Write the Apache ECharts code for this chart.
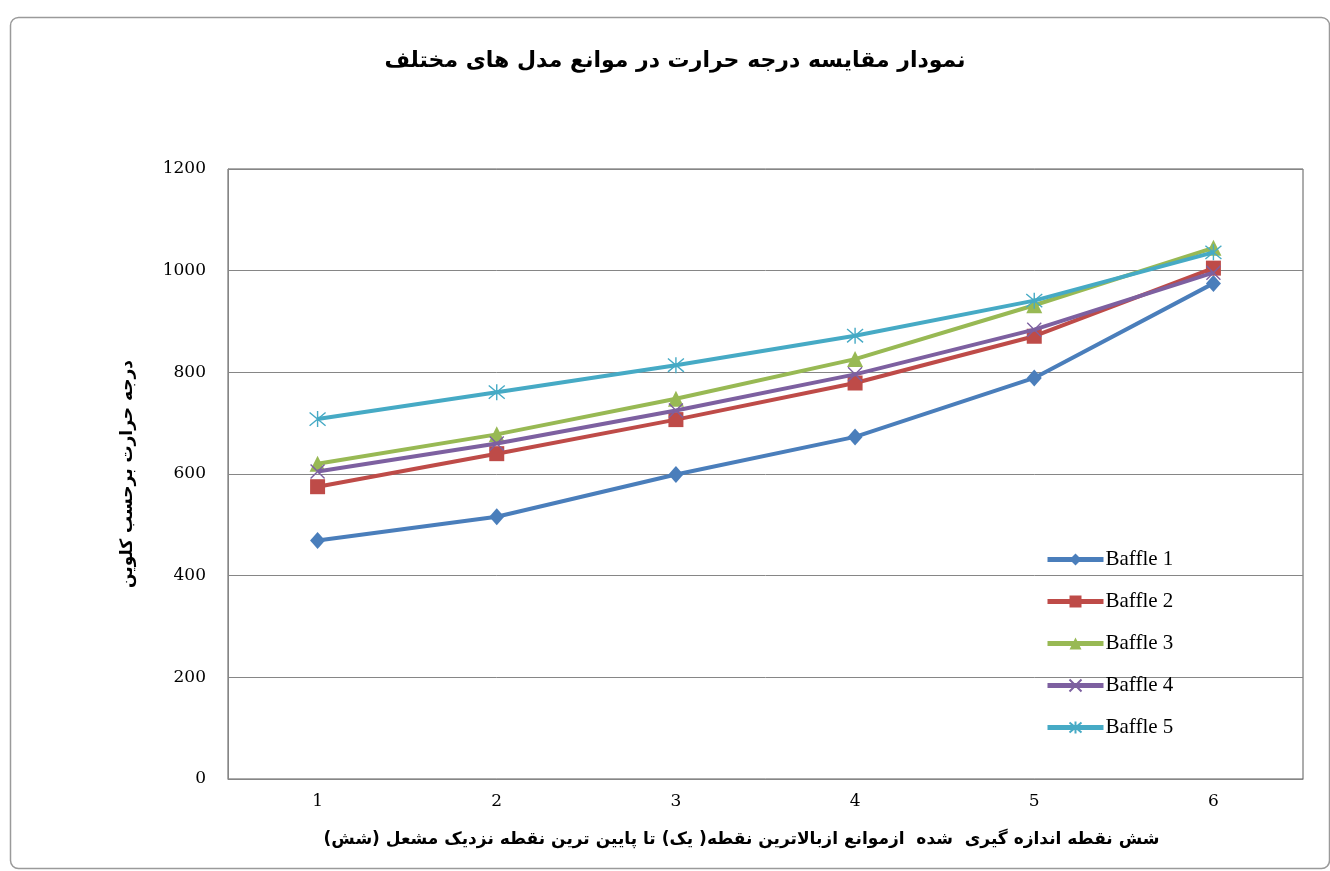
<!DOCTYPE html>
<html>
<head>
<meta charset="utf-8">
<script src="https://cdn.jsdelivr.net/npm/echarts@6/dist/echarts.min.js"></script>
<style>
  html, body { margin: 0; padding: 0; background: #ffffff; }
  #chart { width: 1330px; height: 871px; }
</style>
</head>
<body>
<div id="chart"></div>
<script>
// Measurement points (1 = top of the baffle, 6 = nearest the burner)
const categories = ['1', '2', '3', '4', '5', '6'];

// Temperature in kelvin at each point for each baffle model
const baffle1 = [469, 516, 599, 673, 789, 975];
const baffle2 = [575, 640, 707, 779, 871, 1005];
const baffle3 = [620, 678, 748, 826, 932, 1045];
const baffle4 = [605, 660, 725, 796, 884, 996];
const baffle5 = [708, 761, 814, 872, 941, 1036];

const seriesNames = ['Baffle 1', 'Baffle 2', 'Baffle 3', 'Baffle 4', 'Baffle 5'];
const yTicks = { min: 0, max: 1200, step: 200 };

const titleText = 'نمودار مقایسه درجه حرارت در موانع مدل های مختلف';
const yName = 'درجه حرارت برحسب کلوین';
const xName = '\u200Fشش نقطه اندازه گیری  شده  ازموانع ازبالاترین نقطه( یک) تا پایین ترین نقطه نزدیک مشعل (شش)\u200F';

const colors = ['#4A7EBB', '#BE4B48', '#98B954', '#7D60A0', '#46AAC5'];
const symbols = [
  'diamond',
  'rect',
  'triangle',
  'path://M0,0L10,10M10,0L0,10',
  'path://M0,0L10,10M10,0L0,10M5,-1L5,11'
];
const symbolSizes = [[15, 17], 15, 16, 14, [16, 16]];
const dataSets = [baffle1, baffle2, baffle3, baffle4, baffle5];

const series = dataSets.map((d, i) => {
  const strokeOnly = i >= 3;
  return {
    name: seriesNames[i],
    type: 'line',
    data: d,
    symbol: symbols[i],
    symbolSize: symbolSizes[i],
    showAllSymbol: true,
    lineStyle: { color: colors[i], width: 4 },
    itemStyle: strokeOnly
      ? { color: colors[i], borderColor: colors[i], borderWidth: 1.4 }
      : { color: colors[i] },
    emphasis: { disabled: true },
    z: 2 + i
  };
});

const chart = echarts.init(document.getElementById('chart'), null, { renderer: 'canvas' });

chart.setOption({
  backgroundColor: '#ffffff',
  animation: false,
  color: colors,
  title: {
    text: titleText,
    left: 670,
    top: 45,
    textAlign: 'center',
    textStyle: {
      fontFamily: 'DejaVu Sans',
      fontWeight: 'bold',
      fontSize: 22,
      color: '#000000'
    }
  },
  legend: {
    orient: 'vertical',
    left: 1040,
    top: 544,
    itemWidth: 56,
    itemHeight: 15,
    itemGap: 21,
    data: seriesNames,
    lineStyle: { width: 5 },
    textStyle: {
      fontFamily: 'Liberation Serif',
      fontSize: 21,
      color: '#000000',
      padding: [0, 0, 0, -3]
    }
  },
  grid: {
    left: 228,
    right: 27,
    top: 169,
    bottom: 92,
    show: true,
    borderColor: '#5a5a5a',
    borderWidth: 1,
    containLabel: false
  },
  xAxis: {
    type: 'category',
    data: categories,
    boundaryGap: true,
    axisLine: { lineStyle: { color: '#868686', width: 1 } },
    axisTick: { show: false },
    axisLabel: {
      margin: 14,
      fontFamily: 'DejaVu Serif',
      fontSize: 17,
      color: '#000000'
    },
    name: xName,
    nameLocation: 'middle',
    nameGap: 52,
    nameTextStyle: {
      fontFamily: 'DejaVu Sans',
      fontWeight: 'bold',
      fontSize: 17,
      color: '#000000',
      padding: [0, 48, 0, 0]
    }
  },
  yAxis: {
    type: 'value',
    min: yTicks.min,
    max: yTicks.max,
    interval: yTicks.step,
    axisLine: { show: true, lineStyle: { color: '#868686', width: 1 } },
    axisTick: { show: false },
    splitLine: { lineStyle: { color: '#868686', width: 1 } },
    axisLabel: {
      margin: 22,
      fontFamily: 'DejaVu Serif',
      fontSize: 17,
      color: '#000000',
      formatter: (v) => String(v)
    },
    name: yName,
    nameLocation: 'middle',
    nameGap: 92,
    nameRotate: 90,
    nameTextStyle: {
      fontFamily: 'DejaVu Sans',
      fontWeight: 'bold',
      fontSize: 17,
      color: '#000000'
    }
  },
  graphic: [
    {
      type: 'rect',
      left: 8,
      top: 15,
      shape: { width: 1319, height: 851, r: 8 },
      style: { fill: 'none', stroke: '#9a9a9a', lineWidth: 1.5 },
      silent: true,
      z: 0
    }
  ],
  series: series
});
</script>
</body>
</html>
